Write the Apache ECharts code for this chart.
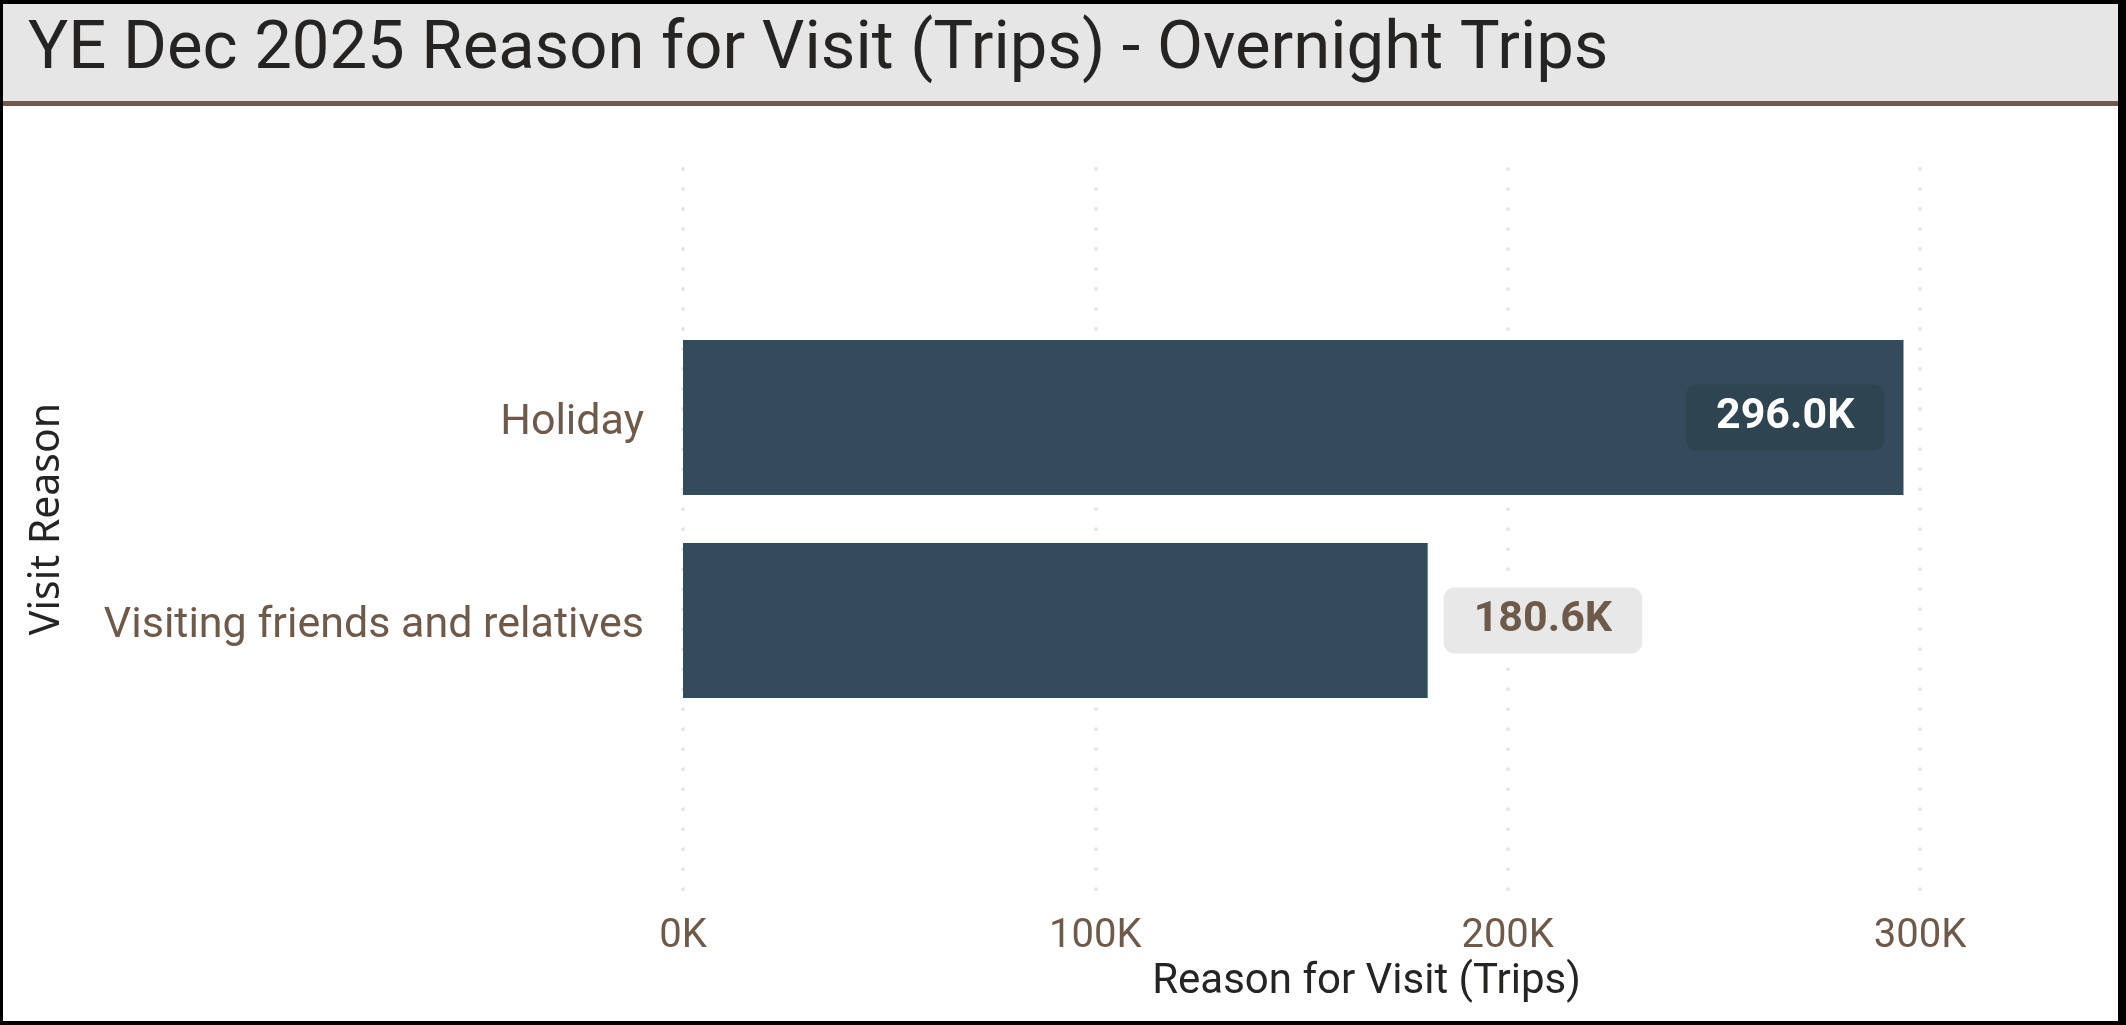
<!DOCTYPE html>
<html>
<head>
<meta charset="utf-8">
<title>YE Dec 2025 Reason for Visit (Trips) - Overnight Trips</title>
<script src="https://cdn.jsdelivr.net/npm/echarts@6/dist/echarts.min.js"></script>
<style>
  html, body { margin: 0; padding: 0; background: #ffffff; overflow: hidden; }
  #chart { width: 2126px; height: 1025px; }
</style>
</head>
<body>
<div id="chart"></div>
<script>
// Visit reasons and overnight trip counts, year ending Dec 2025
const visitReasons = ['Holiday', 'Visiting friends and relatives'];
const tripCounts = [296000, 180600];

// Value axis ticks
const tickValues = [0, 100000, 200000, 300000];
const tickLabels = ['0K', '100K', '200K', '300K'];

const titleText = 'YE Dec 2025 Reason for Visit (Trips) - Overnight Trips';
const valueAxisTitle = 'Reason for Visit (Trips)';
const categoryAxisTitle = 'Visit Reason';

const W = 2126, H = 1025;
const plotLeft = 683, plotRight = 1920;
const axisMin = tickValues[0];
const axisMax = tickValues[tickValues.length - 1];
const axisStep = tickValues[1] - tickValues[0];

const BROWN = '#6e5a4a';
const INK = '#252423';
const BAR = '#344b5b';

function formatK(v) {
  return (v / 1000).toFixed(1) + 'K';
}

// Long bars carry their label inside the end, shorter ones just past it
function labelFor(v) {
  const inside = v / axisMax > 0.8;
  const base = {
    show: true,
    formatter: p => formatK(p.value),
    fontFamily: 'Roboto',
    fontWeight: 'bold',
    fontSize: 43,
    padding: [14, 30, 9, 30],
    borderRadius: 11
  };
  return inside
    ? Object.assign(base, { position: 'insideRight', distance: 19, color: '#ffffff', backgroundColor: '#2f4451' })
    : Object.assign(base, { position: 'right', distance: 16, color: BROWN, backgroundColor: '#e8e8e8' });
}

const chart = echarts.init(document.getElementById('chart'), null, { renderer: 'canvas', width: W, height: H });

chart.setOption({
  backgroundColor: '#ffffff',
  animation: false,
  title: {
    text: titleText,
    left: 23,
    top: 13,
    textStyle: { fontFamily: 'Roboto', fontWeight: 'normal', fontSize: 67, color: INK }
  },
  graphic: [
    { type: 'rect', z: -10, shape: { x: 0, y: 0, width: W, height: 101 }, style: { fill: '#e6e6e6' } },
    { type: 'rect', z: -9, shape: { x: 0, y: 101, width: W, height: 5 }, style: { fill: '#6f5a4b' } },
    // frame
    { type: 'rect', z: 100, shape: { x: 0, y: 0, width: W, height: 4 }, style: { fill: '#000000' } },
    { type: 'rect', z: 100, shape: { x: 0, y: H - 4, width: W, height: 4 }, style: { fill: '#000000' } },
    { type: 'rect', z: 100, shape: { x: 0, y: 0, width: 3, height: H }, style: { fill: '#000000' } },
    { type: 'rect', z: 100, shape: { x: W - 8, y: 0, width: 8, height: H }, style: { fill: '#000000' } }
  ],
  grid: [
    // gridline / value-axis area
    { left: plotLeft, right: W - plotRight, top: 169, bottom: H - 890 },
    // bar area
    { left: plotLeft, right: W - plotRight, top: 316, height: 406 }
  ],
  xAxis: [
    {
      gridIndex: 0,
      type: 'value',
      min: axisMin,
      max: axisMax,
      interval: axisStep,
      axisLine: { show: false },
      axisTick: { show: false },
      axisLabel: {
        margin: 27,
        fontFamily: 'Roboto',
        fontSize: 40,
        color: BROWN,
        formatter: v => tickLabels[tickValues.indexOf(v)] ?? ''
      },
      splitLine: {
        show: true,
        lineStyle: { color: '#e9e5e1', width: 4, type: [0.01, 20], cap: 'round' }
      },
      name: valueAxisTitle,
      nameLocation: 'middle',
      nameGap: 70,
      nameTextStyle: { fontFamily: 'Roboto', fontSize: 42, color: INK, padding: [0, 0, 0, 130] }
    },
    {
      gridIndex: 1,
      type: 'value',
      min: axisMin,
      max: axisMax,
      interval: axisStep,
      show: false,
      splitLine: { show: false }
    }
  ],
  yAxis: [
    { gridIndex: 0, type: 'value', show: false, splitLine: { show: false } },
    {
      gridIndex: 1,
      type: 'category',
      inverse: true,
      data: visitReasons,
      axisLine: { show: false },
      axisTick: { show: false },
      axisLabel: {
        margin: 39,
        formatter: v => '{c|' + v + '}',
        rich: {
          c: { fontFamily: 'Roboto', fontSize: 43, color: BROWN, padding: [12, 0, 0, 0] }
        }
      },
      name: categoryAxisTitle,
      nameLocation: 'middle',
      nameRotate: 90,
      nameGap: 615,
      nameTextStyle: { fontFamily: 'Noto Sans', fontSize: 41, color: INK }
    }
  ],
  series: [
    {
      type: 'bar',
      xAxisIndex: 1,
      yAxisIndex: 1,
      barWidth: 155,
      itemStyle: { color: BAR },
      data: tripCounts.map(v => ({ value: v, label: labelFor(v) }))
    }
  ]
});
</script>
</body>
</html>
